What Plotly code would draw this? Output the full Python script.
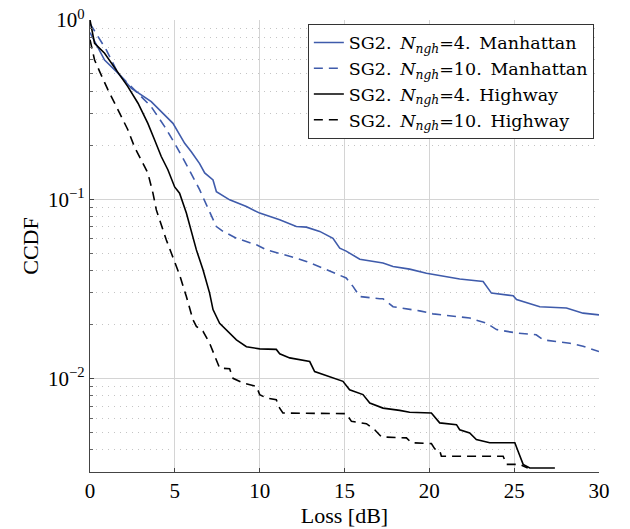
import plotly.graph_objects as go

# Manhattan, N_ngh = 4
man4_x = [0, 0.86, 1.65, 2.43, 3.61, 4.89, 5.58, 5.97, 6.46, 6.76, 7.25, 7.45, 8.23, 9.22, 10.0,
          11.18, 12.16, 12.75, 13.54, 14.32, 14.72, 15.1, 15.9, 16.49, 17.27, 17.86, 18.84, 19.83,
          21.79, 23.17, 23.66, 24.94, 25.14, 26.51, 28.08, 29.06, 30]
man4_y = [0.851, 0.598, 0.505, 0.416, 0.350, 0.265, 0.205, 0.184, 0.158, 0.140, 0.128, 0.110, 0.0991,
          0.0910, 0.0836, 0.0767, 0.0703, 0.0698, 0.0661, 0.0605, 0.0533, 0.0513, 0.0462, 0.0453,
          0.0440, 0.0421, 0.0407, 0.0386, 0.0358, 0.0347, 0.0299, 0.0289, 0.0275, 0.0251, 0.0247,
          0.0231, 0.0226]

# Manhattan, N_ngh = 10
man10_x = [0, 0.37, 0.96, 1.65, 2.83, 3.61, 4.4, 4.99, 5.65, 6.46, 6.95, 7.45, 7.84, 8.63, 9.81,
           10.4, 12.16, 12.75, 13.73, 15.1, 15.5, 15.9, 17.08, 17.27, 17.86, 19.43, 20.22, 22.38,
           23.37, 23.96, 25.14, 26.3, 26.7, 28.28, 29.06, 30]
man10_y = [0.955, 0.843, 0.681, 0.505, 0.390, 0.328, 0.254, 0.205, 0.158, 0.113, 0.0891, 0.0703,
           0.0661, 0.0605, 0.0556, 0.0521, 0.0469, 0.0449, 0.0412, 0.0363, 0.0326, 0.0286, 0.0278,
           0.0278, 0.0251, 0.0238, 0.0229, 0.0217, 0.0203, 0.0187, 0.0179, 0.0175, 0.0164, 0.0157,
           0.0151, 0.0141]

# Highway, N_ngh = 4
hw4_x = [0, 0.27, 0.86, 1.65, 2.23, 2.83, 3.41, 3.81, 4.2, 4.59, 4.99, 5.28, 5.68, 6.27, 6.66,
         7.05, 7.25, 7.64, 8.23, 8.63, 9.22, 10.0, 10.98, 11.18, 11.77, 12.95, 13.24, 14.12, 14.91,
         15.3, 16.09, 16.49, 17.27, 18.25, 18.84, 20.12, 20.61, 21.6, 21.79, 22.38, 22.77, 23.56,
         25.04, 25.23, 25.53, 25.92, 27.4]
hw4_y = [1.0, 0.741, 0.652, 0.505, 0.425, 0.343, 0.265, 0.214, 0.173, 0.146, 0.117, 0.108, 0.0836,
         0.0521, 0.0404, 0.0299, 0.0242, 0.0203, 0.0179, 0.0164, 0.0150, 0.0146, 0.0145, 0.0137,
         0.0130, 0.0124, 0.0109, 0.0102, 0.00962, 0.00863, 0.00811, 0.00728, 0.00682, 0.00662,
         0.00646, 0.00640, 0.00564, 0.00551, 0.00516, 0.00495, 0.00455, 0.00437, 0.00437, 0.00392,
         0.00331, 0.00316, 0.00316]

# Highway, N_ngh = 10
hw10_x = [0, 0.27, 0.57, 1.06, 1.65, 2.23, 2.62, 3.02, 3.41, 3.71, 3.91, 4.5, 5.28, 5.68, 6.07,
          6.27, 6.66, 7.05, 7.45, 7.64, 8.23, 8.43, 9.02, 9.81, 10.0, 10.4, 10.98, 11.18, 11.37,
          15.1, 15.41, 16.29, 16.78, 17.18, 18.65, 18.95, 20.12, 20.32, 20.61, 20.71, 24.35, 24.55,
          25.33, 25.8]
hw10_y = [0.776, 0.598, 0.515, 0.407, 0.315, 0.244, 0.196, 0.166, 0.140, 0.108, 0.0871, 0.0592,
          0.0378, 0.0286, 0.0212, 0.0195, 0.0183, 0.0157, 0.0127, 0.0114, 0.0113, 0.0100, 0.00942,
          0.00902, 0.00811, 0.00776, 0.00759, 0.00682, 0.00640, 0.00635, 0.00575, 0.00558, 0.00516,
          0.00471, 0.00465, 0.00437, 0.00432, 0.00404, 0.00396, 0.00367, 0.00367, 0.00331, 0.00331,
          0.00316]

SP = "\u2002"
names = [
    f"SG2.{SP}<i>N</i><sub><i>ngh</i></sub>=4.{SP}Manhattan",
    f"SG2.{SP}<i>N</i><sub><i>ngh</i></sub>=10.{SP}Manhattan",
    f"SG2.{SP}<i>N</i><sub><i>ngh</i></sub>=4.{SP}Highway",
    f"SG2.{SP}<i>N</i><sub><i>ngh</i></sub>=10.{SP}Highway",
]

x_ticks = [0, 5, 10, 15, 20, 25, 30]
y_ticks = [0.01, 0.1, 1]
y_ticktext = ["10<sup>\u22122</sup>", "10<sup>\u22121</sup>", "10<sup>0</sup>"]
y_minor = [m * 10 ** e for e in (-3, -2, -1) for m in range(2, 10) if m * 10 ** e >= 0.003]

BLUE = "#3f5bab"
BLACK = "#000000"
DASH = "9px,6px"
FONT = "Liberation Serif"

fig = go.Figure()
series = [
    (man4_x, man4_y, BLUE, "solid"),
    (man10_x, man10_y, BLUE, DASH),
    (hw4_x, hw4_y, BLACK, "solid"),
    (hw10_x, hw10_y, BLACK, DASH),
]
for (xs, ys, c, d), n in zip(series, names):
    fig.add_trace(go.Scatter(x=xs, y=ys, mode="lines", name=n,
                             line=dict(color=c, width=1.6, dash=d)))

fig.update_layout(
    width=630, height=529,
    margin=dict(l=90, r=31, t=20, b=57, autoexpand=False),
    plot_bgcolor="white", paper_bgcolor="white",
    font=dict(family=FONT, size=21, color="black"),
    showlegend=True,
    legend=dict(x=0.428, y=0.992, xanchor="left", yanchor="top",
                bgcolor="white", bordercolor="#333333", borderwidth=1,
                font=dict(family="DejaVu Serif", size=17.5), tracegroupgap=0, itemwidth=30),
    xaxis=dict(range=[0, 30], tickvals=x_ticks, showgrid=True, gridcolor="#d4d4d4",
               gridwidth=1, zeroline=False, showline=True, linecolor="#444444",
               linewidth=1.2, ticks="inside", ticklen=4, tickcolor="#444444",
               automargin=False, tickfont=dict(size=21),
               title=dict(text="Loss [dB]", standoff=4, font=dict(size=22))),
    yaxis=dict(type="log", range=[-2.5229, 0], tickvals=y_ticks, ticktext=y_ticktext,
               showgrid=True, gridcolor="#d4d4d4", gridwidth=1, zeroline=False,
               showline=True, linecolor="#444444", linewidth=1.2, ticks="inside",
               ticklen=4, tickcolor="#444444", automargin=False, tickfont=dict(size=21),
               ticklabeloverflow="allow",
               minor=dict(tickmode="array", tickvals=y_minor, ticks="inside", ticklen=2.5,
                          tickcolor="#666666", showgrid=True, gridcolor="#c4c4c4",
                          griddash="1px,5px", gridwidth=1),
               title=dict(text="CCDF", standoff=3, font=dict(size=22))),
)

fig.write_html("out.html", config={"displayModeBar": False},
               post_script="document.body.style.margin='0';document.body.style.overflow='hidden';")
